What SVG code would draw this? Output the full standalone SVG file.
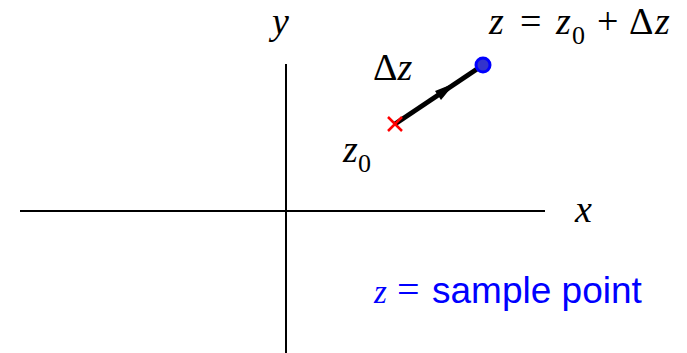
<svg xmlns="http://www.w3.org/2000/svg" width="687" height="353" viewBox="0 0 687 353">
<style>
.m{font-family:"Liberation Serif","Times New Roman",serif;font-style:italic;font-size:38px;fill:#000}
.r{font-style:normal}
.e{font-style:normal;font-size:38px}
.s{font-size:26px;font-style:normal}
.ax{stroke:#000;stroke-width:2;fill:none}
</style>
<rect width="687" height="353" fill="#fff"/>
<g id="axes">
<line class="ax" x1="20" y1="211" x2="545" y2="211"/>
<line class="ax" x1="286" y1="64" x2="286" y2="353"/>
</g>
<g id="connectors">
<line x1="395" y1="124" x2="483" y2="65" stroke="#000" stroke-width="5"/>
<polygon points="455,83 435,91 441,100" fill="#000"/>
</g>
<g id="z0">
<path d="M388,117 L402,131 M402,117 L388,131" stroke="#f00" stroke-width="2.5"/>
</g>
<g id="z">
<circle cx="483" cy="65" r="7" fill="#3333cc" stroke="#0000ff" stroke-width="3"/>
</g>
<g id="labels">
<text class="m" x="272" y="34">y</text>
<text class="m" x="575" y="222">x</text>
<text class="m" x="373" y="80"><tspan class="r">Δ</tspan>z</text>
<text class="m" x="343" y="162">z<tspan class="s" x="358" y="172">0</tspan></text>
<text class="m" y="34"><tspan x="489">z</tspan><tspan class="e" x="520">=</tspan><tspan x="556">z</tspan><tspan class="s" x="572" y="44">0</tspan><tspan class="e" x="597" y="34">+</tspan><tspan class="r" x="629">Δ</tspan><tspan x="655">z</tspan></text>
<text y="303" font-size="37" fill="#0000ff" font-family="Liberation Sans,Arial,sans-serif"><tspan x="374" font-size="33" font-family="Liberation Serif,serif" font-style="italic">z</tspan><tspan x="397" font-size="40" font-family="Liberation Serif,serif">=</tspan><tspan x="432">sample point</tspan></text>
</g>
</svg>
